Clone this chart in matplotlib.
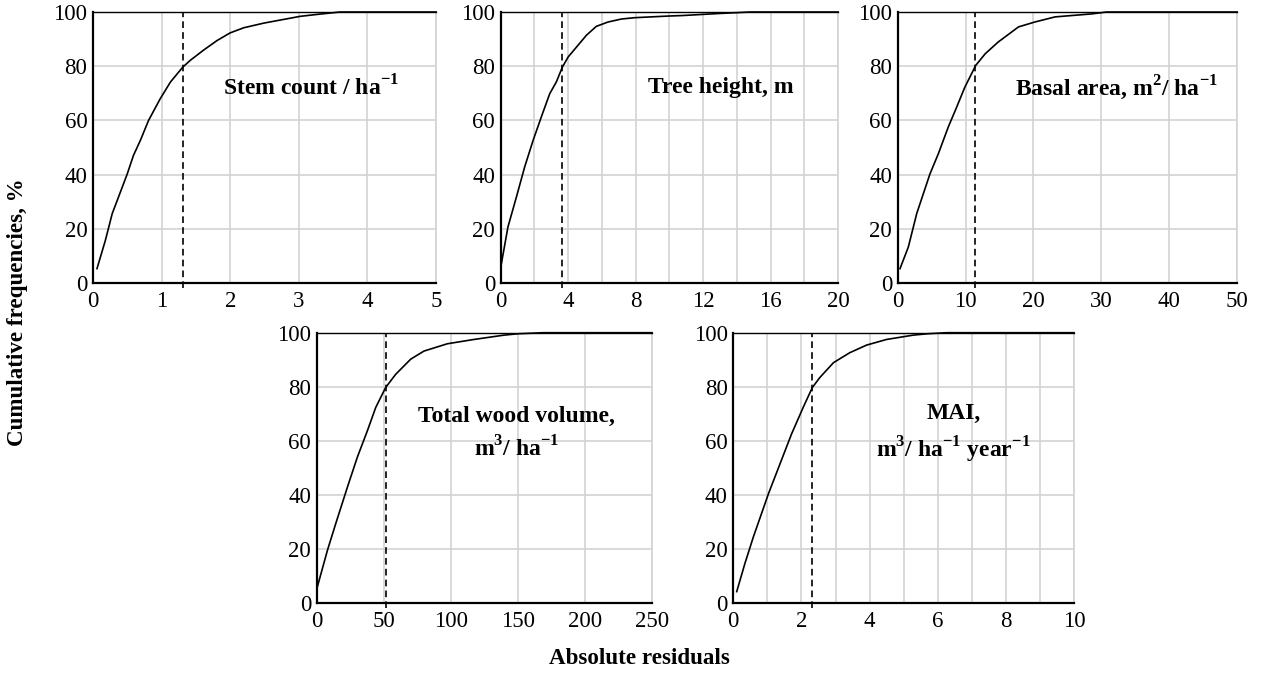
import matplotlib
matplotlib.use("Agg")
import matplotlib.pyplot as plt
import numpy as np

plt.rcParams['font.family'] = ['Liberation Serif', 'DejaVu Serif']
plt.rcParams['mathtext.fontset'] = 'custom'
plt.rcParams['mathtext.rm'] = 'Liberation Serif'
plt.rcParams['mathtext.bf'] = 'Liberation Serif:bold'

# --- data ---
stem_x = [0.058, 0.18, 0.28, 0.40, 0.50, 0.59, 0.69, 0.81, 0.98, 1.13, 1.31, 1.42, 1.61,
          1.81, 2.0, 2.2, 2.49, 2.83, 3.02, 3.3, 3.6, 5.0]
stem_y = [5.3, 15.7, 25.6, 33.6, 40.3, 47.1, 52.6, 60, 68, 74.2, 79.7, 82.2, 85.9,
          89.5, 92.3, 94.2, 95.9, 97.5, 98.4, 99.2, 100, 100]

height_x = [0.04, 0.43, 0.93, 1.42, 1.92, 2.41, 2.91, 3.3, 3.66, 4.0, 4.58, 5.08, 5.67,
            6.36, 7.15, 7.94, 9.92, 10.8, 12.8, 14.8, 20]
height_y = [7.1, 20.7, 31.7, 42.8, 52.6, 61.3, 69.9, 74.2, 79.7, 83.4, 87.7, 91.4, 94.7,
            96.3, 97.4, 97.9, 98.5, 98.7, 99.4, 100, 100]

basal_x = [0.34, 1.57, 2.8, 4.76, 5.99, 7.46, 8.69, 9.9, 11.5, 12.9, 14.8, 17.8, 20.2,
           23.2, 28.6, 30.8, 50]
basal_y = [5.3, 13.3, 25.6, 40.3, 47.7, 57.6, 64.9, 72.3, 80.3, 84.6, 88.9, 94.5, 96.3,
           98.2, 99.3, 100, 100]

volume_x = [0.5, 8, 14.2, 22.9, 30.3, 37.8, 44, 51.4, 58.9, 70.1, 80, 97.4, 117.3, 139.7,
            150, 169, 250]
volume_y = [5.9, 19.4, 29.3, 42.8, 53.9, 63.7, 72.3, 79.7, 84.6, 90.2, 93.2, 95.9, 97.5,
            99.1, 99.6, 100, 100]

mai_x = [0.1, 0.34, 0.59, 1.03, 1.37, 1.71, 2.05, 2.32, 2.54, 2.94, 3.42, 3.91, 4.5, 5.28,
         5.7, 6.26, 10]
mai_y = [4.1, 14.5, 24.4, 40.3, 51.4, 62.5, 72.3, 79.7, 83.4, 88.9, 92.6, 95.4, 97.5, 99.1,
         99.6, 100, 100]

cutoffs = [1.31, 3.66, 11.4, 51.4, 2.32]   # dashed lines (80 %)
xmax = [5, 20, 50, 250, 10]
major = [1, 4, 10, 50, 2]
minor = [1, 2, 10, 50, 1]
titles = ["Stem count / ha$^{\\mathbf{-1}}$",
          "Tree height, m",
          "Basal area, m$^{\\mathbf{2}}$/ ha$^{\\mathbf{-1}}$",
          "Total wood volume,\nm$^{\\mathbf{3}}$/ ha$^{\\mathbf{-1}}$",
          "MAI,\nm$^{\\mathbf{3}}$/ ha$^{\\mathbf{-1}}$ year$^{\\mathbf{-1}}$"]
title_pos = [(0.38, 0.72, 'left'), (0.653, 0.72, 'center'), (0.645, 0.72, 'center'),
             (0.597, 0.627, 'center'), (0.646, 0.624, 'center')]

xs = [stem_x, height_x, basal_x, volume_x, mai_x]
ys = [stem_y, height_y, basal_y, volume_y, mai_y]

W, H = 1267, 684
boxes = [(93, 12, 436, 283), (500.7, 12, 838, 283), (897.7, 12, 1237, 283),
         (316.7, 332.7, 652, 602.7), (733.3, 332.7, 1074, 602.7)]

fig = plt.figure(figsize=(W / 100, H / 100), dpi=100)

for i in range(5):
    l, t, r, b = boxes[i]
    ax = fig.add_axes([l / W, 1 - b / H, (r - l) / W, (b - t) / H])
    ax.set_xlim(0, xmax[i])
    ax.set_ylim(0, 100)
    ax.set_xticks(np.arange(0, xmax[i] + 1e-9, major[i]))
    ax.set_xticks(np.arange(0, xmax[i] + 1e-9, minor[i]), minor=True)
    ax.set_yticks(np.arange(0, 101, 20))
    ax.grid(True, which='both', axis='x', color='#d3d3d3', lw=1.2)
    ax.grid(True, which='major', axis='y', color='#d3d3d3', lw=1.2)
    ax.set_axisbelow(True)
    ax.tick_params(which='both', length=0, labelsize=16.5)
    ax.tick_params(axis='y', pad=4)
    ax.tick_params(axis='x', pad=6)
    for s in ['left', 'bottom']:
        ax.spines[s].set_linewidth(1.6)
    ax.spines['top'].set_linewidth(1.0)
    ax.spines['right'].set_color('#d3d3d3')
    ax.spines['right'].set_linewidth(1.2)

    ax.plot(xs[i], ys[i], color='black', lw=1.2, clip_on=False, zorder=3)
    ax.plot([cutoffs[i], cutoffs[i]], [-1.8, 100], color='black', lw=1.2,
            ls=(0, (4, 2.5)), clip_on=False, zorder=3)

    tx, ty, ha = title_pos[i]
    ax.text(tx, ty, titles[i], transform=ax.transAxes, ha=ha, va='center',
            fontsize=17, fontweight='bold', linespacing=1.45)

fig.text(0.014, 0.544, "Cumulative frequencies, %", rotation=90, ha='center', va='center',
         fontsize=16.6, fontweight='bold')
fig.text(0.505, 0.038, "Absolute residuals", ha='center', va='center',
         fontsize=16.6, fontweight='bold')

fig.savefig("out.png", dpi=100, facecolor='white')
